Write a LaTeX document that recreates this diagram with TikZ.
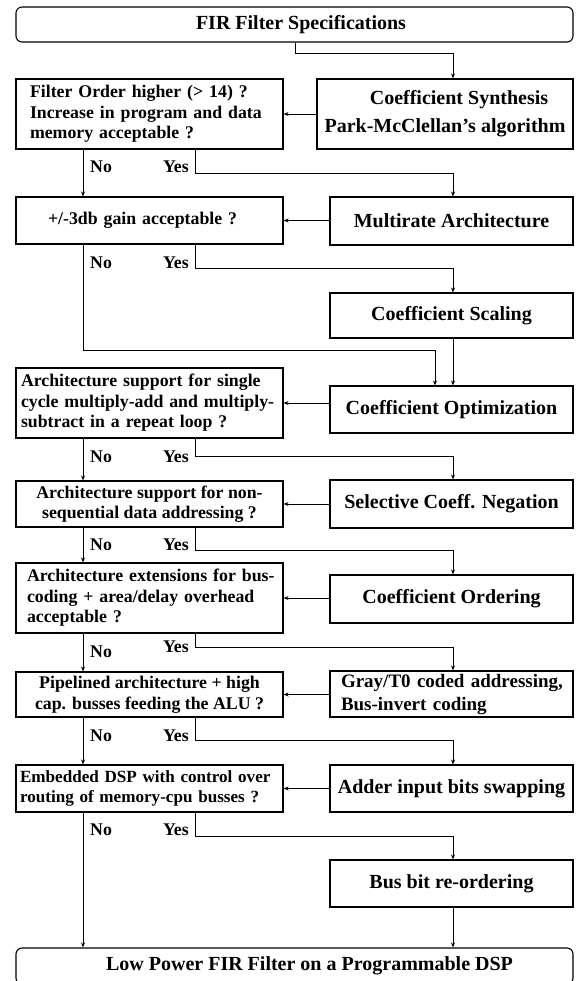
\documentclass[tikz,border=0pt]{standalone}
\usepackage{fontspec}
\setmainfont{Liberation Serif}
\usetikzlibrary{arrows.meta}
\begin{document}
\begin{tikzpicture}[x=1pt,y=-1pt,
  lfont/.style={font=\fontsize{17.8}{20.6}\selectfont\bfseries},
  rfont/.style={font=\fontsize{20}{28}\selectfont\bfseries},
  lbox/.style={draw=black, line width=1.1pt, lfont, minimum width=267pt, inner sep=0pt},
  rbox/.style={draw=black, line width=1.1pt, rfont, minimum width=243pt, inner sep=0pt},
  tbox/.style={draw=black, line width=1.1pt, rfont, rounded corners=6pt, minimum width=557pt, inner sep=0pt},
  arr/.style={-{Stealth[length=5pt,width=4pt]}, line width=0.9pt},
  lbl/.style={lfont, inner sep=0pt}]
\useasboundingbox (0,0) rectangle (576,981);

% terminal boxes
\node[tbox, minimum height=35pt] (T) at (294.5,24.5) {\hspace*{13pt}FIR Filter Specifications};
\node[tbox, minimum height=36pt] (B) at (294.5,966) {\hspace*{30pt}Low Power FIR Filter on a Programmable DSP};

% left decision boxes
\node[lbox, minimum height=70pt, text width=239pt, align=left] (L1) at (149.5,114)
  {\mbox{Filter Order higher (> 14) ?}\\\mbox{Increase in program and data}\\\mbox{memory acceptable ?}};
\node[lbox, minimum height=47pt, text width=203pt, align=left] (L2) at (149.5,220.5)
  {\mbox{+/-3db gain acceptable ?}};
\node[lbox, minimum height=70pt, text width=257pt, align=left] (L3) at (149.5,403)
  {\mbox{Architecture support for single}\\\mbox{cycle multiply-add and multiply-}\\\mbox{subtract in a repeat loop ?}};
\node[lbox, minimum height=46pt, align=center] (L4) at (149.5,504)
  {Architecture support for non-\\sequential data addressing ?};
\node[lbox, minimum height=70pt, text width=245pt, align=left] (L5) at (149.5,598)
  {\mbox{Architecture extensions for bus-}\\\mbox{coding + area/delay overhead}\\\mbox{acceptable ?}};
\node[lbox, minimum height=45pt, align=center] (L6) at (149.5,694.5)
  {Pipelined architecture + high\\cap. busses feeding the ALU ?};
\node[lbox, minimum height=47pt, text width=259pt, align=left, font=\fontsize{17.1}{20.6}\selectfont\bfseries] (L7) at (149.5,788.5)
  {\mbox{Embedded DSP with control over}\\\mbox{routing of memory-cpu busses ?}};

% right action boxes
\node[rbox, minimum width=256pt, minimum height=70pt, align=center] (R1) at (445,114)
  {\hspace*{28pt}Coefficient Synthesis\\Park-McClellan's algorithm};
\node[rbox, minimum height=48pt] (R2) at (451.5,221) {Multirate Architecture};
\node[rbox, minimum height=45pt] (RS) at (451.5,315.5) {Coefficient Scaling};
\node[rbox, minimum height=47pt] (R3) at (451.5,409.5) {Coefficient Optimization};
\node[rbox, minimum height=48pt] (R4) at (451.5,504) {Selective Coeff. Negation};
\node[rbox, minimum height=48pt] (R5) at (451.5,599) {Coefficient Ordering};
\node[rbox, minimum height=46pt, text width=221pt, align=left, font=\fontsize{19}{23}\selectfont\bfseries] (R6) at (451.5,694)
  {\mbox{Gray/T0 coded addressing,}\\\mbox{Bus-invert coding}};
\node[rbox, minimum height=47pt] (R7) at (451.5,788.5) {Adder input bits swapping};
\node[rbox, minimum height=47pt] (RB) at (451.5,883.5) {Bus bit re-ordering};

% helper coordinates
\coordinate (nx) at (83,0);
\coordinate (yx) at (195,0);
\coordinate (ax) at (453,0);
\coordinate (tx) at (295,0);
\coordinate (ox) at (435,0);
\coordinate (t0) at (0,53);
\coordinate (b1) at (0,173);
\coordinate (b2) at (0,268);
\coordinate (c2) at (0,350);
\coordinate (b3) at (0,456);
\coordinate (b4) at (0,550);
\coordinate (b5) at (0,647);
\coordinate (b6) at (0,740);
\coordinate (b7) at (0,836);

% top
\draw[arr] (T.south -| tx) |- (t0 -| ax) -- (R1.north -| ax);

% right-to-left feeds
\draw[arr] (L1.east -| R1.west) -- (L1.east);
\draw[arr] (L2.east -| R2.west) -- (L2.east);
\draw[arr] (L3.east -| R3.west) -- (L3.east);
\draw[arr] (L4.east -| R4.west) -- (L4.east);
\draw[arr] (L5.east -| R5.west) -- (L5.east);
\draw[arr] (L6.east -| R6.west) -- (L6.east);
\draw[arr] (L7.east -| R7.west) -- (L7.east);

% No paths
\draw[arr] (L1.south -| nx) -- (L2.north -| nx);
\draw[arr] (L2.south -| nx) |- (c2 -| ox) -- (R3.north -| ox);
\draw[arr] (RS.south -| ax) -- (R3.north -| ax);
\draw[arr] (L3.south -| nx) -- (L4.north -| nx);
\draw[arr] (L4.south -| nx) -- (L5.north -| nx);
\draw[arr] (L5.south -| nx) -- (L6.north -| nx);
\draw[arr] (L6.south -| nx) -- (L7.north -| nx);
\draw[arr] (L7.south -| nx) -- (B.north -| nx);

% Yes paths
\draw[arr] (L1.south -| yx) |- (b1 -| ax) -- (R2.north -| ax);
\draw[arr] (L2.south -| yx) |- (b2 -| ax) -- (RS.north -| ax);
\draw[arr] (L3.south -| yx) |- (b3 -| ax) -- (R4.north -| ax);
\draw[arr] (L4.south -| yx) |- (b4 -| ax) -- (R5.north -| ax);
\draw[arr] (L5.south -| yx) |- (b5 -| ax) -- (R6.north -| ax);
\draw[arr] (L6.south -| yx) |- (b6 -| ax) -- (R7.north -| ax);
\draw[arr] (L7.south -| yx) |- (b7 -| ax) -- (RB.north -| ax);
\draw[arr] (RB.south -| ax) -- (B.north -| ax);

% labels
\node[lbl, anchor=west] (no1) at (90,167) {No};
\node[lbl, anchor=east] (yes1) at (189,167) {Yes};
\node[lbl, anchor=west] (no2) at (90,263) {No};
\node[lbl, anchor=east] (yes2) at (189,263) {Yes};
\node[lbl, anchor=west] (no3) at (90,457) {No};
\node[lbl, anchor=east] (yes3) at (189,457) {Yes};
\node[lbl, anchor=west] (no4) at (90,545) {No};
\node[lbl, anchor=east] (yes4) at (189,545) {Yes};
\node[lbl, anchor=west] (no5) at (90,652) {No};
\node[lbl, anchor=east] (yes5) at (189,647) {Yes};
\node[lbl, anchor=west] (no6) at (90,736) {No};
\node[lbl, anchor=east] (yes6) at (189,736) {Yes};
\node[lbl, anchor=west] (no7) at (90,830) {No};
\node[lbl, anchor=east] (yes7) at (189,830) {Yes};
\end{tikzpicture}
\end{document}
